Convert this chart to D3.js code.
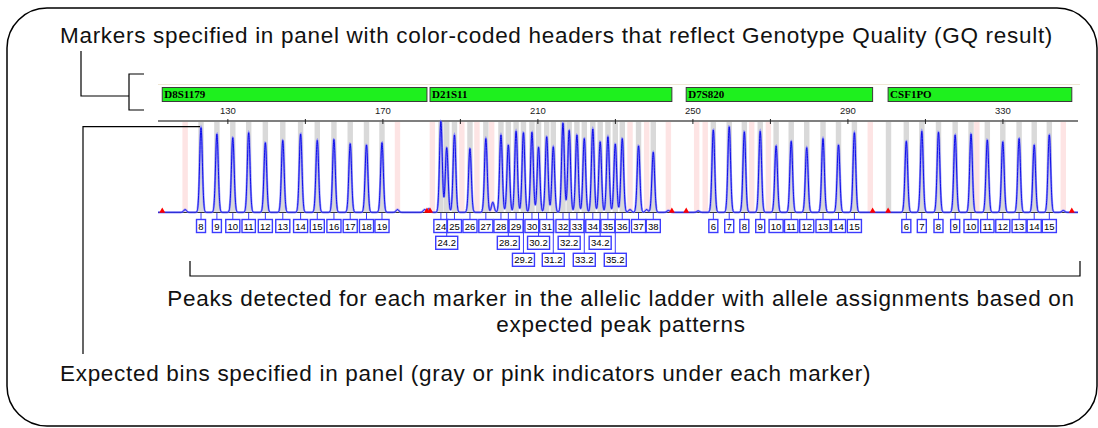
<!DOCTYPE html>
<html><head><meta charset="utf-8">
<script src="https://cdn.jsdelivr.net/npm/d3@7"></script>
<style>
html,body{margin:0;padding:0;background:#fff;}
svg{display:block;}
</style></head><body>
<svg id="chart" width="1098" height="428"></svg>
<script>
// Size ruler (bp)
const tickValues = [130, 150, 170, 190, 210, 230, 250, 270, 290, 310, 330];
const tickLabels = ["130", "", "170", "", "210", "", "250", "", "290", "", "330"];

// Panel markers and their size ranges (bp)
const markerNames = ["D8S1179", "D21S11", "D7S820", "CSF1PO"];
const markerStart = [113.2, 182.3, 248.4, 300.5];
const markerEnd   = [181.5, 244.7, 296.5, 347.9];

// Allelic ladder peaks: allele call, size (bp), height (% of full scale)
const d8Alleles = ["8","9","10","11","12","13","14","15","16","17","18","19"];
const d8Sizes   = [123.2,127.3,131.4,135.5,139.8,144.3,148.9,153.2,157.5,161.7,165.9,169.9];
const d8Heights = [93,86,82,87.5,76.5,79,86,79,80,75.4,74,76.5];

const d21Alleles = ["24","24.2","25","26","27","28","28.2","29","29.2","30","30.2","31","31.2","32","32.2","33","33.2","34","34.2","35","35.2","36","37","38"];
const d21Sizes   = [185.1,186.6,188.6,192.6,196.7,200.6,202.5,204.5,206.4,208.6,210.3,212.4,214.1,216.6,218.2,220.2,222.1,224.3,226.2,228.2,230.1,231.9,236.1,239.9];
const d21Heights = [100,71,85,70,81,85,74,89,87.5,88,71.5,83,72,98,90,85,81,91.5,77.5,83,75,81,73,66];

const d7Alleles = ["6","7","8","9","10","11","12","13","14","15"];
const d7Sizes   = [255.4,259.5,263.4,267.5,271.6,275.5,279.5,283.7,287.7,291.8];
const d7Heights = [90.5,94,88.5,89,73,78,71,81,74,87.5];

const csfAlleles = ["6","7","8","9","10","11","12","13","14","15"];
const csfSizes   = [305.2,309.2,313.5,317.8,321.9,326.1,330.1,334.3,338.2,342.1];
const csfHeights = [78,89,88,85,86,79.5,77.5,81,74,85];

// Bins without a ladder peak
const extraBins   = [300.6];
const virtualBins = [119.1,173.9,182.9,190.5,194.4,198.2,233.9,238.2,243.8,251.1,253.3,265.3,269.6,295.9,323.4,345.7];

// Minor signal bumps on the trace: size (bp), height (%)
const noiseSizes   = [119.1,173.9,180.9,182.0,198.5,233.9,238.2,243.8,345.7,251.5];
const noiseHeights = [3,3,3,4,11,3,3,2,2,1.5];

const svg = d3.select("#chart");

const x = d3.scaleLinear().domain([112.1, 349.5]).range([158, 1078]);
const y = d3.scaleLinear().domain([0, 100]).range([212.3, 121.3]);

// outer rounded frame
svg.append("rect").attr("x", 7).attr("y", 8).attr("width", 1090).attr("height", 418)
  .attr("rx", 40).attr("ry", 40).attr("fill", "none").attr("stroke", "#000").attr("stroke-width", 1.5);

const font = "'Liberation Sans', Arial, Helvetica, sans-serif";

// panel top rule
svg.append("line").attr("x1", 158).attr("x2", 1080).attr("y1", 84.5).attr("y2", 84.5)
  .attr("stroke", "#efe6d4").attr("stroke-width", 1);

// marker headers
const headers = svg.append("g");
markerNames.forEach((name, i) => {
  headers.append("rect")
    .attr("x", x(markerStart[i])).attr("y", 87.5)
    .attr("width", x(markerEnd[i]) - x(markerStart[i])).attr("height", 14)
    .attr("fill", "#1ef01e").attr("stroke", "#3a3a3a").attr("stroke-width", 1);
  headers.append("text")
    .attr("x", x(markerStart[i]) + 2).attr("y", 98)
    .attr("font-family", "'Liberation Serif', 'Times New Roman', serif")
    .attr("font-weight", "bold").attr("font-size", 11).attr("fill", "#000")
    .text(name);
});

// bins
const markers = [
  {alleles: d8Alleles, sizes: d8Sizes, heights: d8Heights},
  {alleles: d21Alleles, sizes: d21Sizes, heights: d21Heights},
  {alleles: d7Alleles, sizes: d7Sizes, heights: d7Heights},
  {alleles: csfAlleles, sizes: csfSizes, heights: csfHeights}
];
const binHalf = 0.7;
const bins = svg.append("g");
virtualBins.forEach(s => {
  bins.append("rect").attr("x", x(s - binHalf)).attr("y", 122)
    .attr("width", x(s + binHalf) - x(s - binHalf)).attr("height", 212.3 - 122)
    .attr("fill", "#fde4e4");
});
const grayBins = markers.flatMap(m => m.sizes).concat(extraBins);
grayBins.forEach(s => {
  bins.append("rect").attr("x", x(s - binHalf)).attr("y", 122)
    .attr("width", x(s + binHalf) - x(s - binHalf)).attr("height", 212.3 - 122)
    .attr("fill", "#d9d9d9");
});

// ruler
svg.append("line").attr("x1", 158).attr("x2", 1078).attr("y1", 121).attr("y2", 121)
  .attr("stroke", "#555").attr("stroke-width", 1.3);
const axis = d3.axisTop(x).tickValues(tickValues)
  .tickFormat((d, i) => tickLabels[i]).tickSize(2).tickPadding(5);
const ag = svg.append("g").attr("transform", "translate(0,121)").call(axis);
ag.select(".domain").remove();
ag.selectAll(".tick line").attr("y1", -2).attr("y2", 3).attr("stroke", "#222");
ag.selectAll(".tick text").attr("font-family", font).attr("font-size", 9.5).attr("fill", "#222");

// baseline
svg.append("line").attr("x1", 158).attr("x2", 1078).attr("y1", 212.5).attr("y2", 212.5)
  .attr("stroke", "#333").attr("stroke-width", 1);

// electropherogram trace
const peaks = markers.flatMap(m => m.sizes.map((s, i) => [s, m.heights[i]]))
  .concat(noiseSizes.map((s, i) => [s, noiseHeights[i]]));
const sigma = 0.35;
const samples = d3.range(x.domain()[0], x.domain()[1], 0.03).map(bp => {
  let v = 0;
  for (const [s, h] of peaks) {
    const d = bp - s;
    if (Math.abs(d) < 3) v += h * Math.exp(-d * d / (2 * sigma * sigma));
  }
  return [bp, v];
});
const line = d3.line().x(d => x(d[0])).y(d => y(d[1]));
svg.append("path").datum(samples).attr("d", line).attr("fill", "none")
  .attr("stroke", "#7b7bff").attr("stroke-width", 2.2).attr("stroke-opacity", 0.75);
svg.append("path").datum(samples).attr("d", line).attr("fill", "none")
  .attr("stroke", "#0000e6").attr("stroke-width", 0.9);

// marker range flags
const flags = markerStart.concat(markerEnd);
svg.append("g").selectAll("path").data(flags).join("path")
  .attr("d", s => `M${x(s) - 3},212.8 L${x(s)},207.5 L${x(s) + 3},212.8 Z`)
  .attr("fill", "#ff0000");

// allele call boxes
const labelG = svg.append("g");
const rowTop = [219.5, 236.3, 253.3];
const boxH = 13;
markers.forEach(m => {
  const items = m.alleles.map((a, i) => ({label: a, cx: x(m.sizes[i])}));
  const rowRight = [-Infinity, -Infinity, -Infinity];
  items.forEach(it => {
    const t = labelG.append("text").attr("font-family", font).attr("font-size", 9.5)
      .attr("text-anchor", "middle").attr("fill", "#000").text(it.label);
    const tw = t.node().getComputedTextLength();
    const bw = Math.max(9, tw + 3.5);
    const left = it.cx - bw / 2;
    let r = 0;
    while (r < 2 && left < rowRight[r] - 1.5) r++;
    rowRight[r] = left + bw;
    const top = rowTop[r];
    labelG.append("line").attr("x1", it.cx).attr("x2", it.cx).attr("y1", 212.8).attr("y2", top)
      .attr("stroke", "#3b3bff").attr("stroke-width", 1);
    labelG.append("rect").attr("x", left).attr("y", top).attr("width", bw).attr("height", boxH)
      .attr("fill", "#fff").attr("stroke", "#3b3bff").attr("stroke-width", 1.4);
    t.attr("x", it.cx).attr("y", top + 10).raise();
  });
});

// callouts
const callout = svg.append("g").attr("stroke", "#000").attr("stroke-width", 1.2).attr("fill", "none");
callout.append("path").attr("d", "M81,51 V96 H129");
callout.append("path").attr("d", "M144,74 H129 V110 H144");
callout.append("path").attr("d", "M200,126.7 H83 V354");
callout.append("path").attr("d", "M190,261 V276 H1080 V261");

const textSize = 22.5;
const spacing = 0.7;
function caption(xp, yp, anchor, str) {
  svg.append("text").attr("x", xp).attr("y", yp).attr("text-anchor", anchor)
    .attr("font-family", font).attr("font-size", textSize).attr("letter-spacing", spacing)
    .attr("fill", "#111").text(str);
}
caption(60, 42.5, "start", "Markers specified in panel with color-coded headers that reflect Genotype Quality (GQ result)");
caption(621, 305.5, "middle", "Peaks detected for each marker in the allelic ladder with allele assignments based on");
caption(621, 331.5, "middle", "expected peak patterns");
caption(60, 380.5, "start", "Expected bins specified in panel (gray or pink indicators under each marker)");
</script>
</body></html>
